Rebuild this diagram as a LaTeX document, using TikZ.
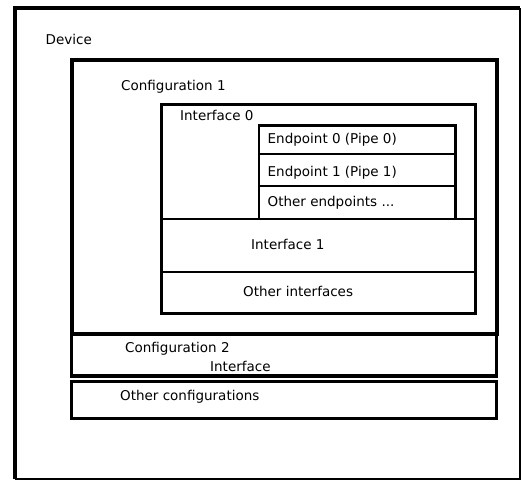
\documentclass[tikz,border=0pt]{standalone}
\usepackage{fontspec}
\setmainfont{DejaVu Sans}
\begin{document}
\begin{tikzpicture}[x=1pt,y=-1pt,
  frame/.style={draw=none,anchor=north west,inner sep=0pt,outer sep=0pt},
  boxline/.style={draw,anchor=north west,inner sep=0pt,outer sep=0pt},
  lbl/.style={anchor=west,inner sep=0pt,font=\fontsize{13.5}{15}\selectfont}]
\useasboundingbox (0,0) rectangle (522,481);
% Device
\node[frame,minimum width=505pt,minimum height=470.5pt] (dev) at (15,8.5) {};
\draw[line width=4pt] (dev.south west) -- (dev.north west) -- (dev.north east);
\draw[line width=1.5pt] (dev.north east) -- (dev.south east) -- (dev.south west);
% Configuration boxes
\node[boxline,line width=4pt,minimum width=425pt,minimum height=273.5pt] (c1) at (71.5,60.5) {};
\node[boxline,line width=3.5pt,minimum width=425pt,minimum height=42pt] (c2) at (71.5,334) {};
\node[boxline,line width=3pt,minimum width=425pt,minimum height=37pt] (oc) at (71.5,381) {};
% Interfaces
\node[boxline,line width=2.5pt,minimum width=314pt,minimum height=114.5pt] (i0) at (161.5,104.5) {};
\node[boxline,line width=2.5pt,minimum width=314pt,minimum height=53pt] (i1) at (161.5,219) {};
\node[boxline,line width=2.5pt,minimum width=314pt,minimum height=41.5pt] (oi) at (161.5,272) {};
% Endpoints
\node[boxline,line width=2.5pt,minimum width=196.5pt,minimum height=28.5pt] (e0) at (259,125.5) {};
\node[boxline,line width=2.5pt,minimum width=196.5pt,minimum height=32pt] (e1) at (259,154) {};
\node[boxline,line width=2.5pt,minimum width=196.5pt,minimum height=33pt] (oe) at (259,186) {};
% Labels
\node[lbl] (tdev) at (45.5,39) {Device};
\node[lbl] (tc1) at (121,87) {Configuration 1};
\node[lbl] (ti0) at (180,115) {Interface 0};
\node[lbl] (te0) at (267.5,140) {Endpoint 0 (Pipe 0)};
\node[lbl] (te1) at (267.5,172.5) {Endpoint 1 (Pipe 1)};
\node[lbl] (toe) at (267.5,202.5) {Other endpoints ...};
\node[lbl] (ti1) at (251,244) {Interface 1};
\node[lbl] (toi) at (243,291) {Other interfaces};
\node[lbl] (tc2) at (125,349) {Configuration 2};
\node[lbl] (tif) at (210,366) {Interface};
\node[lbl] (toc) at (120,397) {Other configurations};
\end{tikzpicture}
\end{document}
